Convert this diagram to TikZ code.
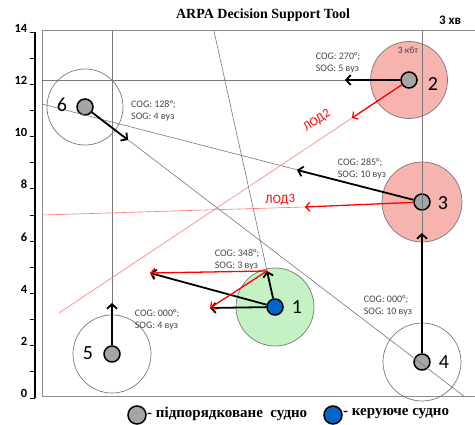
\documentclass[tikz,border=0pt]{standalone}
\usepackage{fontspec}
\setmainfont{Liberation Serif}
\newfontfamily\calfont{Carlito}
\usetikzlibrary{arrows.meta}
\definecolor{zonered}{RGB}{247,180,174}
\definecolor{zonegreen}{RGB}{196,242,196}
\definecolor{shipgray}{RGB}{165,165,165}
\definecolor{shipblue}{RGB}{0,102,204}
\definecolor{linegray}{RGB}{120,120,120}
\definecolor{framegray}{RGB}{140,140,140}
\definecolor{palered}{RGB}{255,120,120}
\definecolor{txtgray}{RGB}{70,70,70}
\tikzset{
  framel/.style={draw=framegray, line width=1pt},
  axisl/.style={draw=black, line width=1.2pt},
  zone/.style={circle, draw=linegray, line width=0.7pt, inner sep=0pt, minimum size=#1},
  ship/.style={circle, draw=black, line width=1.5pt, fill=shipgray, inner sep=0pt, minimum size=16pt},
  course/.style={draw=linegray, line width=0.6pt},
  lodline/.style={draw=palered, line width=0.6pt},
  blackarrow/.style={draw=black, line width=1.8pt, -{Straight Barb[length=4.5pt,width=10pt]}},
  redarrow/.style={draw=red, line width=1.3pt, -{Straight Barb[length=4pt,width=9pt]}},
  coglabel/.style={font=\calfont\fontsize{10}{12}\selectfont, text=txtgray, align=left, inner sep=0pt},
  shipnum/.style={font=\calfont\fontsize{20}{20}\selectfont, inner sep=0pt},
  ticklabel/.style={font=\calfont\bfseries\fontsize{12.5}{13}\selectfont, anchor=base east, inner sep=0pt},
  lodlabel/.style={font=\calfont\fontsize{12.5}{13}\selectfont, text=red, inner sep=0pt},
  legendtext/.style={font=\bfseries\fontsize{15}{16}\selectfont, anchor=west, inner sep=0pt},
}
\begin{document}
\begin{tikzpicture}[x=1pt,y=-1pt]
\useasboundingbox (0,0) rectangle (475,425);
% frame and axis
\draw[framel] (475,31) -- (42,31) -- (42,397) -- (475,397);
\draw[axisl] (35,32) -- (35,398);
\foreach \v in {0,...,14} \draw[black, line width=0.9pt] (29.5,{398-26.14*\v}) -- (35,{398-26.14*\v});
\foreach \v in {0,2,...,14} \node[ticklabel] at (27.5,{398-26.14*\v}) {\v};
% title
\node[font=\bfseries\fontsize{14}{16}\selectfont, inner sep=0pt] (title) at (263,15) {ARPA Decision Support Tool};
\node[font=\calfont\bfseries\fontsize{13}{14}\selectfont, inner sep=0pt] (time) at (450,20) {3 хв};
% zones
\node[zone=78pt, fill=zonegreen] (z1) at (275,307) {};
\node[zone=77pt, fill=zonered] (z2) at (409,80) {};
\node[zone=80pt, fill=zonered] (z3) at (422,202) {};
\node[zone=78pt] (z4) at (422,362) {};
\node[zone=78pt] (z5) at (112,354) {};
\node[zone=76pt] (z6) at (85,107) {};
% ships
\node[ship, fill=shipblue] (s1) at (275,307) {};
\node[ship] (s2) at (409,80) {};
\node[ship] (s3) at (422,202) {};
\node[ship] (s4) at (422,362) {};
\node[ship] (s5) at (112,354) {};
\node[ship] (s6) at (85,107) {};
% free ends
\coordinate (e1) at (214,31);
\coordinate (e2) at (42,80);
\coordinate (e3) at (42,104);
\coordinate (e4) at (422,31);
\coordinate (e5) at (112,31);
\coordinate (e6) at (465,397);
\coordinate (a1) at (267,271);
\coordinate (a2) at (345,80);
\coordinate (a3) at (297,170);
\coordinate (a4) at (422,233);
\coordinate (a5) at (112,303);
\coordinate (a6) at (128,140);
\coordinate (b1) at (150,273);
\coordinate (b2) at (210,308);
\coordinate (r2) at (352,118);
\coordinate (f2) at (59,313);
\coordinate (r3) at (305,207);
\coordinate (f3) at (42,215);
% course lines
\draw[course] (s1) -- (e1);
\draw[course] (s2) -- (e2);
\draw[course] (s3) -- (e3);
\draw[course] (s4) -- (e4);
\draw[course] (s5) -- (e5);
\draw[course] (s6) -- (e6);
% LOD lines
\draw[lodline] (r2) -- (f2);
\draw[lodline] (r3) -- (f3);
% black arrows
\draw[blackarrow] (s1) -- (a1);
\draw[blackarrow] (s1) -- (b1);
\draw[blackarrow] (s1) -- (b2);
\draw[blackarrow] (s2) -- (a2);
\draw[blackarrow] (s3) -- (a3);
\draw[blackarrow] (s4) -- (a4);
\draw[blackarrow] (s5) -- (a5);
\draw[blackarrow] (s6) -- (a6);
% red arrows
\draw[redarrow] (a1) -- (b1);
\draw[redarrow] (a1) -- (b2);
\draw[redarrow] (s2) -- (r2);
\draw[redarrow] (s3) -- (r3);
% ship numbers
\node[shipnum] (n1) at (297,307) {1};
\node[shipnum] (n2) at (433,84) {2};
\node[shipnum] (n3) at (443,203) {3};
\node[shipnum] (n4) at (444,362) {4};
\node[shipnum] (n5) at (88,353) {5};
\node[shipnum] (n6) at (62,105) {6};
% COG/SOG labels
\node[coglabel, anchor=west] (c6) at (131,111) {COG: 128°;\\SOG: 4 вуз};
\node[coglabel] (c2) at (338,63) {COG: 270°;\\SOG: 5 вуз};
\node[coglabel] (c3) at (362,169) {COG: 285°;\\SOG: 10 вуз};
\node[coglabel] (c1) at (237,260) {COG: 348°;\\SOG: 3 вуз};
\node[coglabel] (c5) at (157,320) {COG: 000°;\\SOG: 4 вуз};
\node[coglabel] (c4) at (388,306) {COG: 000°;\\SOG: 10 вуз};
\node[font=\calfont\fontsize{9.5}{10}\selectfont, text=txtgray, inner sep=0pt] (kbt) at (408,50) {3 кбт};
% LOD labels
\node[lodlabel, rotate=34] (l2) at (317,121) {ЛОД2};
\node[lodlabel, rotate=2] (l3) at (280,200) {ЛОД3};
% legend
\node[ship, minimum size=18pt] (lg1) at (137,415) {};
\node[legendtext] (lt1) at (147,414) {- підпорядковане\ \ судно};
\node[ship, minimum size=18pt, fill=shipblue] (lg2) at (333,415) {};
\node[legendtext] (lt2) at (343,414) {- керуюче судно};
\end{tikzpicture}
\end{document}
